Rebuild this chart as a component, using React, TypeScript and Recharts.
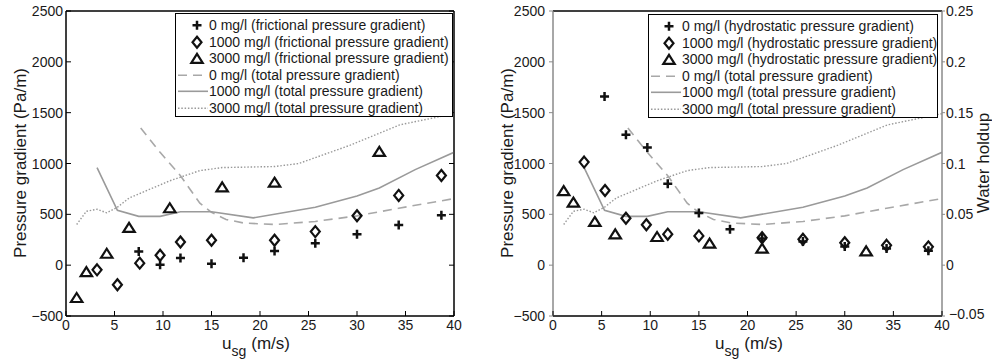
// Two panels: frictional / hydrostatic pressure gradient vs superficial gas velocity
import React from 'react';
import { ComposedChart, Line, Scatter, XAxis, YAxis, ReferenceLine } from 'recharts';

const xTicks = [0, 5, 10, 15, 20, 25, 30, 35, 40];
const yTicks = [-500, 0, 500, 1000, 1500, 2000, 2500];
const holdupTicks = [-0.05, 0, 0.05, 0.1, 0.15, 0.2, 0.25];
const holdupLabels = ['\u22120.05', '0', '0.05', '0.1', '0.15', '0.2', '0.25'];
const concLabels = ['0 mg/l', '1000 mg/l', '3000 mg/l'];

// frictional pressure gradient (left panel markers)
const fric0X = [7.5, 9.7, 11.8, 15.0, 18.3, 21.5, 25.7, 30.0, 34.3, 38.7];
const fric0Y = [135, 5, 70, 15, 72, 140, 215, 305, 395, 490];
const fric1000X = [3.2, 5.3, 7.6, 9.7, 11.8, 15.0, 21.5, 25.7, 30.0, 34.3, 38.7];
const fric1000Y = [-46, -193, 20, 98, 228, 245, 245, 330, 486, 686, 882];
const fric3000X = [1.1, 2.1, 4.2, 6.5, 10.7, 16.1, 21.5, 32.3];
const fric3000Y = [-318, -63, 117, 372, 565, 770, 816, 1120];

// hydrostatic pressure gradient (right panel markers)
const hyd0X = [5.3, 7.5, 9.7, 11.8, 15.0, 18.2, 21.5, 25.7, 30.0, 34.3, 38.6];
const hyd0Y = [1660, 1282, 1158, 800, 512, 354, 262, 232, 183, 163, 141];
const hyd1000X = [3.2, 5.35, 7.5, 9.6, 11.8, 15.0, 21.5, 25.7, 30.0, 34.3, 38.6];
const hyd1000Y = [1014, 734, 462, 397, 305, 288, 270, 255, 220, 195, 180];
const hyd3000X = [1.1, 2.1, 4.3, 6.4, 10.7, 16.1, 21.5, 32.2];
const hyd3000Y = [734, 620, 430, 308, 282, 217, 167, 141];

// total pressure gradient (same curves on both panels)
const total0X = [7.7, 9.7, 11.8, 13.8, 15.0, 16.5, 18.3, 21.5, 25.7, 30.0, 34.3, 40];
const total0Y = [1350, 1110, 880, 610, 520, 450, 415, 400, 430, 485, 560, 655];
const total1000X = [3.2, 5.3, 7.5, 9.7, 11.8, 15.0, 19.3, 25.7, 30.0, 32.3, 36.0, 40];
const total1000Y = [960, 540, 480, 480, 525, 525, 465, 570, 680, 760, 940, 1110];
const total3000X = [1.1, 2.1, 3.2, 4.2, 5.3, 6.5, 10.7, 13.8, 16.1, 21.5, 24.0, 29.3, 34.4, 40];
const total3000Y = [400, 530, 550, 515, 570, 660, 830, 930, 960, 970, 1000, 1180, 1380, 1490];

const toPoints = (xs: number[], ys: number[]) => xs.map((x, i) => ({ x, y: ys[i] }));

const FONT = '"Liberation Sans", Arial, Helvetica, sans-serif';
const INK = '#111';
const TXT = '#1a1a1a';
const SIDE_GRAY = '#8a8a8a';

type MarkProps = { cx?: number; cy?: number };

const PlusMark = ({ cx = 0, cy = 0 }: MarkProps) => (
  <path d={`M${cx - 4.5},${cy}H${cx + 4.5}M${cx},${cy - 4.5}V${cy + 4.5}`} stroke={INK} strokeWidth={2.5} fill="none" />
);
const DiamondMark = ({ cx = 0, cy = 0 }: MarkProps) => (
  <path
    d={`M${cx},${cy - 5.5}L${cx + 4.5},${cy}L${cx},${cy + 5.5}L${cx - 4.5},${cy}Z`}
    stroke={INK}
    strokeWidth={2.2}
    fill="none"
  />
);
const TriangleMark = ({ cx = 0, cy = 0 }: MarkProps) => (
  <path
    d={`M${cx},${cy - 4.5}L${cx + 5.7},${cy + 4.5}L${cx - 5.7},${cy + 4.5}Z`}
    stroke={INK}
    strokeWidth={2.2}
    fill="none"
  />
);

const marks = [PlusMark, DiamondMark, TriangleMark];
const lineStyles = [
  { stroke: '#a8a8a8', dash: '9 6', width: 1.6 },
  { stroke: '#9a9a9a', dash: undefined, width: 1.6 },
  { stroke: '#999', dash: '1.5 1.8', width: 1.4 },
];

type TickProps = { x: number; y: number; payload: { value: number } };
const minus = (v: number) => String(v).replace('-', '\u2212');

// tick renderers: draw the tick mark and its label from the axis position
const bottomTick = ({ x, y, payload }: TickProps) => (
  <g>
    <line x1={x} x2={x} y1={y} y2={y - 5} stroke="#000" />
    <text x={x} y={y + 14} textAnchor="middle" fontSize={14} fill={TXT} fontFamily={FONT}>
      {payload.value}
    </text>
  </g>
);
const topTick = ({ x, y }: TickProps) => <line x1={x} x2={x} y1={y} y2={y + 5} stroke="#000" />;
const leftTickIn = ({ x, y, payload }: TickProps) => (
  <g>
    <line x1={x} x2={x + 5} y1={y} y2={y} stroke="#000" />
    <text x={x - 3} y={y} dy="0.36em" textAnchor="end" fontSize={14} fill={TXT} fontFamily={FONT}>
      {minus(payload.value)}
    </text>
  </g>
);
const leftTickOut = ({ x, y, payload }: TickProps) => (
  <g>
    <line x1={x} x2={x - 4} y1={y} y2={y} stroke={SIDE_GRAY} />
    <text x={x - 8} y={y} dy="0.36em" textAnchor="end" fontSize={14} fill={TXT} fontFamily={FONT}>
      {minus(payload.value)}
    </text>
  </g>
);
const rightTickIn = ({ x, y }: TickProps) => <line x1={x} x2={x - 5} y1={y} y2={y} stroke="#000" />;
const rightTickOut = ({ x, y, payload }: TickProps) => {
  const idx = holdupTicks.indexOf(payload.value);
  // lowest label sits next to the "40" of the x axis: nudge it clear
  const nudge = idx === 0 ? { dx: 3, dy: -2 } : { dx: 0, dy: 0 };
  return (
    <g>
      <line x1={x} x2={x + 3} y1={y} y2={y} stroke={SIDE_GRAY} />
      <text x={x + 4 + nudge.dx} y={y + nudge.dy} dy="0.36em" textAnchor="start" fontSize={14} fill={TXT} fontFamily={FONT}>
        {holdupLabels[idx] ?? String(payload.value)}
      </text>
    </g>
  );
};

function LegendBox({ left, top, width, kind, markX }: { left: number; top: number; width: number; kind: string; markX: number }) {
  const rowH = 16.6;
  const rows = [
    ...concLabels.map((c, i) => ({ text: `${c} (${kind} pressure gradient)`, mark: i, line: -1 })),
    ...concLabels.map((c, i) => ({ text: `${c} (total pressure gradient)`, mark: -1, line: i })),
  ];
  return (
    <div
      style={{
        position: 'absolute',
        left,
        top,
        width,
        height: 104,
        border: '1px solid #000',
        background: '#fff',
        boxSizing: 'border-box',
        paddingTop: 3,
      }}
    >
      {rows.map((r, i) => {
        const Mark = r.mark >= 0 ? marks[r.mark] : null;
        const ls = r.line >= 0 ? lineStyles[r.line] : null;
        return (
          <div key={i} style={{ display: 'flex', alignItems: 'center', height: rowH }}>
            <svg width={33} height={rowH} style={{ flex: 'none' }}>
              {Mark && <Mark cx={markX} cy={rowH / 2} />}
              {ls && (
                <line x1={2} x2={32} y1={rowH / 2} y2={rowH / 2} stroke={ls.stroke} strokeWidth={ls.width} strokeDasharray={ls.dash} />
              )}
            </svg>
            <span style={{ fontSize: 14, color: TXT, whiteSpace: 'nowrap', lineHeight: `${rowH}px` }}>{r.text}</span>
          </div>
        );
      })}
    </div>
  );
}

type PanelProps = {
  left: number;
  width: number;
  margin: { top: number; right: number; bottom: number; left: number };
  series: { x: number; y: number }[][];
  holdup: boolean;
  uX: number;
  yLabelX: number;
};

function Panel({ left, width, margin, series, holdup, uX, yLabelX }: PanelProps) {
  const lines = [toPoints(total0X, total0Y), toPoints(total1000X, total1000Y), toPoints(total3000X, total3000Y)];
  const sideColor = holdup ? SIDE_GRAY : '#000';
  return (
    <div style={{ position: 'absolute', left, top: 0 }}>
      <ComposedChart width={width} height={359} margin={margin} style={{ fontFamily: FONT }}>
        <XAxis
          dataKey="x"
          type="number"
          domain={[0, 40]}
          allowDataOverflow
          ticks={xTicks}
          interval={0}
          height={1}
          axisLine={{ stroke: '#000' }}
          tickLine={false}
          tickSize={0}
          tickMargin={0}
          tick={bottomTick}
          label={{
            content: () => (
              <text x={uX} y={348.5} fontSize={17} fill={TXT} fontFamily={FONT}>
                u
                <tspan dy={7} fontSize={14}>
                  sg
                </tspan>
                <tspan dy={-7} dx={5}>
                  (m/s)
                </tspan>
              </text>
            ),
          }}
        />
        <XAxis
          xAxisId="top"
          orientation="top"
          type="number"
          domain={[0, 40]}
          allowDataOverflow
          ticks={xTicks}
          interval={0}
          height={1}
          axisLine={{ stroke: '#000' }}
          tickLine={false}
          tickSize={0}
          tickMargin={0}
          tick={topTick}
        />
        <YAxis
          dataKey="y"
          type="number"
          domain={[-500, 2500]}
          allowDataOverflow
          ticks={yTicks}
          interval={0}
          width={1}
          axisLine={{ stroke: sideColor }}
          tickLine={false}
          tickSize={0}
          tickMargin={0}
          tick={holdup ? leftTickOut : leftTickIn}
          label={{
            content: () => (
              <text
                x={yLabelX}
                y={163}
                fontSize={17}
                fill={TXT}
                fontFamily={FONT}
                textAnchor="middle"
                dominantBaseline="central"
                transform={`rotate(-90 ${yLabelX} 163)`}
              >
                Pressure gradient (Pa/m)
              </text>
            ),
          }}
        />
        <YAxis
          yAxisId="side"
          orientation="right"
          type="number"
          domain={holdup ? [-0.05, 0.25] : [-500, 2500]}
          allowDataOverflow
          ticks={holdup ? holdupTicks : yTicks}
          interval={0}
          width={1}
          axisLine={{ stroke: sideColor }}
          tickLine={false}
          tickSize={0}
          tickMargin={0}
          tick={holdup ? rightTickOut : rightTickIn}
          label={
            holdup
              ? {
                  content: () => (
                    <text
                      x={503}
                      y={163}
                      fontSize={17}
                      fill={TXT}
                      fontFamily={FONT}
                      textAnchor="middle"
                      dominantBaseline="central"
                      transform="rotate(-90 503 163)"
                    >
                      Water holdup
                    </text>
                  ),
                }
              : undefined
          }
        />
        {/* plot frame */}
        <ReferenceLine y={-500} stroke="#000" ifOverflow="visible" />
        <ReferenceLine y={2500} stroke="#000" ifOverflow="visible" />
        <ReferenceLine x={0} stroke={sideColor} ifOverflow="visible" />
        <ReferenceLine x={40} stroke={sideColor} ifOverflow="visible" />
        {lines.map((pts, i) => (
          <Line
            key={`l${i}`}
            data={pts}
            dataKey="y"
            type="linear"
            stroke={lineStyles[i].stroke}
            strokeWidth={lineStyles[i].width}
            strokeDasharray={lineStyles[i].dash}
            dot={false}
            activeDot={false}
            isAnimationActive={false}
          />
        ))}
        {series.map((pts, i) => {
          const Mark = marks[i];
          return (
            <Scatter
              key={`s${i}`}
              data={pts}
              shape={(p: MarkProps) => <Mark cx={p.cx} cy={p.cy} />}
              isAnimationActive={false}
            />
          );
        })}
      </ComposedChart>
    </div>
  );
}

export default function App() {
  const fric = [toPoints(fric0X, fric0Y), toPoints(fric1000X, fric1000Y), toPoints(fric3000X, fric3000Y)];
  const hyd = [toPoints(hyd0X, hyd0Y), toPoints(hyd1000X, hyd1000Y), toPoints(hyd3000X, hyd3000Y)];
  return (
    <div style={{ position: 'absolute', left: 0, top: 0, width: 992, height: 359, background: '#fff', fontFamily: FONT }}>
      <Panel
        left={0}
        width={470}
        margin={{ top: 10, right: 15, bottom: 42, left: 65 }}
        series={fric}
        holdup={false}
        uX={222}
        yLabelX={20}
      />
      <Panel
        left={480}
        width={512}
        margin={{ top: 10, right: 49, bottom: 42, left: 72 }}
        series={hyd}
        holdup
        uX={235}
        yLabelX={27}
      />
      <LegendBox left={175} top={13} width={278} kind="frictional" markX={21} />
      <LegendBox left={648} top={14} width={290} kind="hydrostatic" markX={20} />
    </div>
  );
}
